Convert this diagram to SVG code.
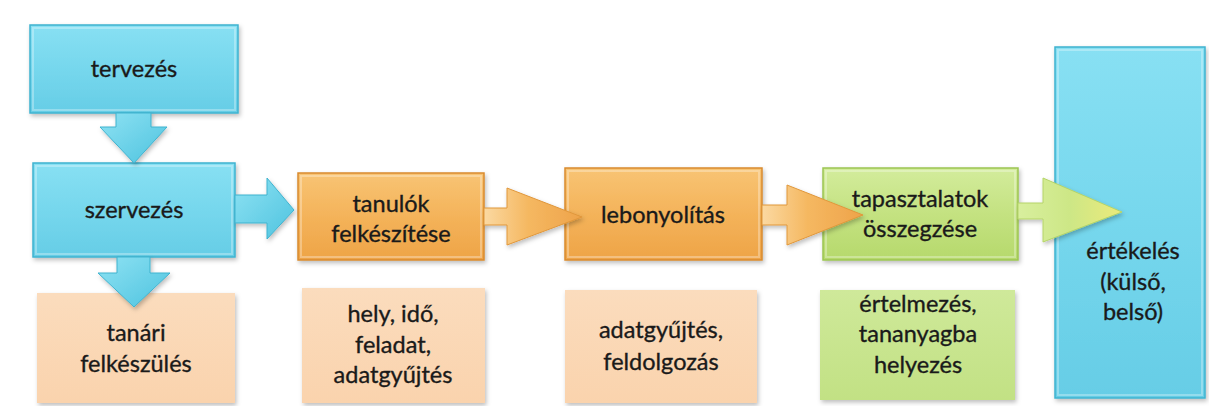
<svg xmlns="http://www.w3.org/2000/svg" width="1209" height="406" viewBox="0 0 1209 406">
  <defs>
    <style>
      text { font-family: Lato, "Open Sans", "Liberation Sans", sans-serif; font-size: 23.5px; fill: #1a1a1a; stroke: #1a1a1a; stroke-width: 0.35; text-anchor: middle; }
      .cyan { fill: url(#gCyan); stroke: #3fb3cf; stroke-width: 1.5; }
      .orange { fill: url(#gOrange); stroke: #d98a2f; stroke-width: 1.5; }
      .green { fill: url(#gGreen); stroke: #9cc552; stroke-width: 1.5; }
      .peach { fill: url(#gPeach); }
      .lgreen { fill: url(#gLGreen); }
      .rim { fill: none; stroke: #ffffff; stroke-opacity: 0.3; stroke-width: 2; }
      .shadow { filter: url(#soft); }
    </style>
    <linearGradient id="gCyan" x1="0" y1="0" x2="0" y2="1">
      <stop offset="0" stop-color="#88e0f3"/>
      <stop offset="0.5" stop-color="#76d7ed"/>
      <stop offset="1" stop-color="#66cde6"/>
    </linearGradient>
    <linearGradient id="gOrange" x1="0" y1="0" x2="0" y2="1">
      <stop offset="0" stop-color="#f8c474"/>
      <stop offset="0.5" stop-color="#f4b35a"/>
      <stop offset="1" stop-color="#eea447"/>
    </linearGradient>
    <linearGradient id="gGreen" x1="0" y1="0" x2="0" y2="1">
      <stop offset="0" stop-color="#d3ec9c"/>
      <stop offset="0.5" stop-color="#c4e281"/>
      <stop offset="1" stop-color="#b6d96c"/>
    </linearGradient>
    <linearGradient id="gPeach" x1="0" y1="0" x2="0" y2="1">
      <stop offset="0" stop-color="#fbdcbd"/>
      <stop offset="1" stop-color="#fad3ad"/>
    </linearGradient>
    <linearGradient id="gLGreen" x1="0" y1="0" x2="0" y2="1">
      <stop offset="0" stop-color="#cfe99a"/>
      <stop offset="1" stop-color="#c2e184"/>
    </linearGradient>
    <linearGradient id="gArrowCyan" x1="0" y1="0" x2="1" y2="1">
      <stop offset="0" stop-color="#8ee2f3"/>
      <stop offset="1" stop-color="#4ec3df"/>
    </linearGradient>
    <linearGradient id="gArrowOrange" x1="0" y1="0" x2="1" y2="0">
      <stop offset="0" stop-color="#fbd9a2"/>
      <stop offset="0.45" stop-color="#f5b861"/>
      <stop offset="1" stop-color="#eea34a"/>
    </linearGradient>
    <linearGradient id="gArrowGreen" x1="0" y1="0" x2="1" y2="0">
      <stop offset="0" stop-color="#d8ef9e"/>
      <stop offset="0.5" stop-color="#cde786"/>
      <stop offset="1" stop-color="#ecea7a"/>
    </linearGradient>
    <filter id="soft" x="-10%" y="-10%" width="125%" height="130%">
      <feDropShadow dx="1.5" dy="2.5" stdDeviation="2" flood-color="#000000" flood-opacity="0.25"/>
    </filter>
  </defs>

  <rect width="1209" height="406" fill="#ffffff"/>

  <!-- lower row: detail boxes -->
  <g id="tanari-felkeszules">
    <rect class="peach shadow" x="37" y="293" width="198" height="110"/>
    <text x="136" y="341">tanári</text>
    <text x="136" y="372">felkészülés</text>
  </g>
  <g id="hely-ido">
    <rect class="peach shadow" x="302" y="288" width="183" height="115"/>
    <text x="393" y="322">hely, idő,</text>
    <text x="393" y="353">feladat,</text>
    <text x="393" y="383">adatgyűjtés</text>
  </g>
  <g id="adatgyujtes">
    <rect class="peach shadow" x="565" y="290" width="192" height="113"/>
    <text x="661" y="338">adatgyűjtés,</text>
    <text x="661" y="370">feldolgozás</text>
  </g>
  <g id="ertelmezes">
    <rect class="lgreen shadow" x="820" y="290" width="195" height="110"/>
    <text x="918" y="312">értelmezés,</text>
    <text x="918" y="342">tananyagba</text>
    <text x="918" y="373">helyezés</text>
  </g>

  <!-- upper row: process steps -->
  <g id="tervezes">
    <rect class="cyan shadow" x="30" y="25" width="208" height="88"/>
    <rect class="rim" x="33" y="28" width="202" height="82"/>
    <text x="134" y="77">tervezés</text>
  </g>
  <g id="szervezes">
    <rect class="cyan shadow" x="33" y="163" width="202" height="94"/>
    <rect class="rim" x="36" y="166" width="196" height="88"/>
    <text x="134" y="218">szervezés</text>
  </g>
  <g id="tanulok-felkeszitese">
    <rect class="orange shadow" x="298" y="173" width="186" height="87"/>
    <rect class="rim" x="301" y="176" width="180" height="81"/>
    <text x="391" y="212">tanulók</text>
    <text x="391" y="242">felkészítése</text>
  </g>
  <g id="lebonyolitas">
    <rect class="orange shadow" x="565" y="168" width="197" height="92"/>
    <rect class="rim" x="568" y="171" width="191" height="86"/>
    <text x="663" y="223">lebonyolítás</text>
  </g>
  <g id="tapasztalatok">
    <rect class="green shadow" x="823" y="168" width="195" height="92"/>
    <rect class="rim" x="826" y="171" width="189" height="86"/>
    <text x="920" y="207">tapasztalatok</text>
    <text x="920" y="237">összegzése</text>
  </g>
  <g id="ertekeles">
    <rect class="cyan shadow" x="1055" y="47" width="150" height="351"/>
    <rect class="rim" x="1058" y="50" width="144" height="345"/>
    <text x="1133" y="259">értékelés</text>
    <text x="1133" y="290">(külső,</text>
    <text x="1133" y="320">belső)</text>
  </g>

  <!-- connectors: block arrows -->
  <g id="connectors">
    <polygon class="shadow" fill="url(#gArrowCyan)" stroke="#3fb3cf" stroke-width="1" points="116,113 151,113 151,127 167,127 134,163 100,127 116,127"/>
    <polygon class="shadow" fill="url(#gArrowCyan)" stroke="#3fb3cf" stroke-width="1" points="117,257 150,257 150,273 170,273 134,307 98,273 117,273"/>
    <polygon class="shadow" fill="url(#gArrowCyan)" stroke="#3fb3cf" stroke-width="1" points="235,195 267,195 267,178 294,210 267,239 267,223 235,223"/>
    <polygon class="shadow" fill="url(#gArrowOrange)" stroke="#e0973b" stroke-width="1" points="484,208 507,208 507,188 582,217 507,245 507,225 484,225"/>
    <polygon class="shadow" fill="url(#gArrowOrange)" stroke="#e0973b" stroke-width="1" points="762,205 787,205 787,185 863,215 787,245 787,225 762,225"/>
    <polygon class="shadow" fill="url(#gArrowGreen)" stroke="#b5d468" stroke-width="1" points="1018,203 1043,203 1043,178 1122,212 1043,242 1043,219 1018,219"/>
  </g>
</svg>
